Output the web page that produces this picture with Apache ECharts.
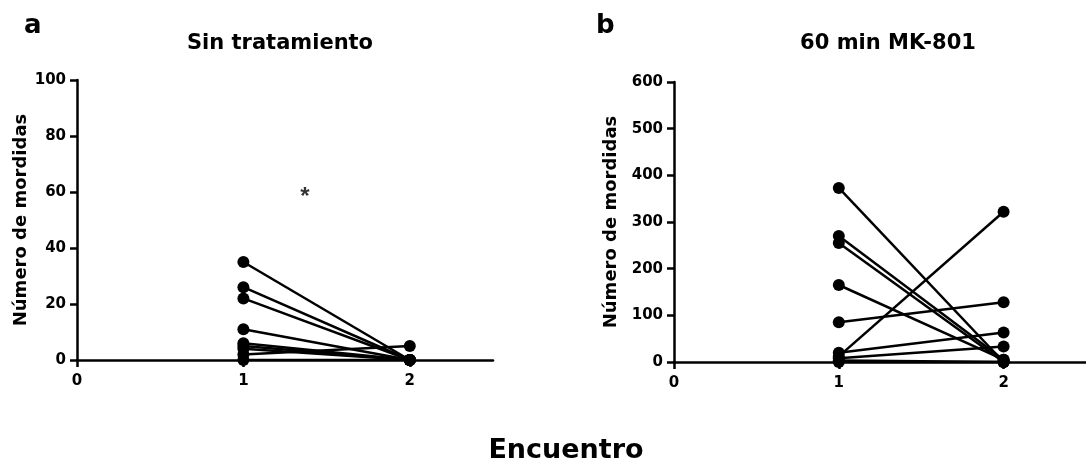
<!DOCTYPE html>
<html>
<head>
<meta charset="utf-8">
<script src="https://cdn.jsdelivr.net/npm/echarts@6/dist/echarts.min.js"></script>
<style>html,body{margin:0;padding:0;background:#fff}#c{width:1086px;height:464px}</style>
</head>
<body>
<div id="c"></div>
<script>
// Panel a: Sin tratamiento (encuentro 1 -> encuentro 2, one pair per subject)
const aEnc1 = [35, 26, 22, 11, 6, 5, 4, 2, 0];
const aEnc2 = [0, 0, 0, 0, 0, 0, 0, 5, 0];
// Panel b: 60 min MK-801
const bEnc1 = [373, 270, 255, 165, 85, 20, 12, 8, 3, 0];
const bEnc2 = [0, 5, 0, 5, 128, 63, 322, 33, 0, 0];
const xTicks = [0, 1, 2];
const aYTicks = [0, 20, 40, 60, 80, 100];
const bYTicks = [0, 100, 200, 300, 400, 500, 600];
const titles = ['Sin tratamiento', '60 min MK-801'];
const panelLetters = ['a', 'b'];
const yName = 'Número de mordidas';
const xName = 'Encuentro';
const star = [[1.37, 58]];

const FONT = '"DejaVu Sans", "Liberation Sans", Arial, sans-serif';
const chart = echarts.init(document.getElementById('c'), null, {renderer: 'canvas'});

function xAxis(gi) {
  return {
    gridIndex: gi, type: 'value', min: 0, max: 2.5, interval: 1,
    axisLine: {onZero: false, lineStyle: {color: '#000', width: 2.5}},
    axisTick: {customValues: xTicks, length: 7, lineStyle: {color: '#000', width: 2.5}},
    axisLabel: {customValues: xTicks, color: '#000', fontWeight: 'bold', fontSize: 15, fontFamily: FONT, margin: 14},
    splitLine: {show: false}
  };
}
function yAxis(gi, ticks) {
  return {
    gridIndex: gi, type: 'value', min: ticks[0], max: ticks[ticks.length - 1],
    interval: ticks[1] - ticks[0],
    name: yName, nameLocation: 'middle', nameGap: gi === 0 ? 47 : 54,
    nameTextStyle: {color: '#000', fontWeight: 'bold', fontSize: 18, fontFamily: FONT},
    axisLine: {show: true, lineStyle: {color: '#000', width: 2.5}},
    axisTick: {show: true, length: 7, lineStyle: {color: '#000', width: 2.5}},
    axisLabel: {color: '#000', fontWeight: 'bold', fontSize: 15, fontFamily: FONT, margin: 11},
    splitLine: {show: false}
  };
}
function pairSeries(gi, e1, e2) {
  return e1.map((v, i) => ({
    type: 'line', xAxisIndex: gi, yAxisIndex: gi,
    data: [[1, v], [2, e2[i]]],
    symbol: 'circle', symbolSize: 12,
    itemStyle: {color: '#000'},
    lineStyle: {color: '#000', width: 2.5},
    silent: true, animation: false, z: 3
  }));
}

const series = [
  ...pairSeries(0, aEnc1, aEnc2),
  ...pairSeries(1, bEnc1, bEnc2),
  {
    type: 'scatter', xAxisIndex: 0, yAxisIndex: 0, data: star,
    symbolSize: 0,
    label: {show: true, position: 'inside', formatter: '*', color: '#000', fontWeight: 'bold', fontSize: 24, fontFamily: 'Liberation Sans, Arial, sans-serif'},
    animation: false
  }
];

chart.setOption({
  backgroundColor: '#fff',
  animation: false,
  title: [
    {text: titles[0], left: 275, top: 28, textAlign: 'center', textStyle: {fontSize: 21, fontWeight: 'bold', color: '#000', fontFamily: FONT}},
    {text: titles[1], left: 883, top: 28, textAlign: 'center', textStyle: {fontSize: 21, fontWeight: 'bold', color: '#000', fontFamily: FONT}},
    {text: panelLetters[0], left: 19, top: 8, textStyle: {fontSize: 26, fontWeight: 'bold', color: '#000', fontFamily: FONT}},
    {text: panelLetters[1], left: 591, top: 8, textStyle: {fontSize: 26, fontWeight: 'bold', color: '#000', fontFamily: FONT}},
    {text: xName, left: 561, top: 432, textAlign: 'center', textStyle: {fontSize: 27, fontWeight: 'bold', color: '#000', fontFamily: FONT}}
  ],
  grid: [
    {left: 77, top: 80, width: 416, height: 280},
    {left: 674, top: 82, width: 417, height: 280}
  ],
  xAxis: [xAxis(0), xAxis(1)],
  yAxis: [yAxis(0, aYTicks), yAxis(1, bYTicks)],
  series: series
});
</script>
</body>
</html>
